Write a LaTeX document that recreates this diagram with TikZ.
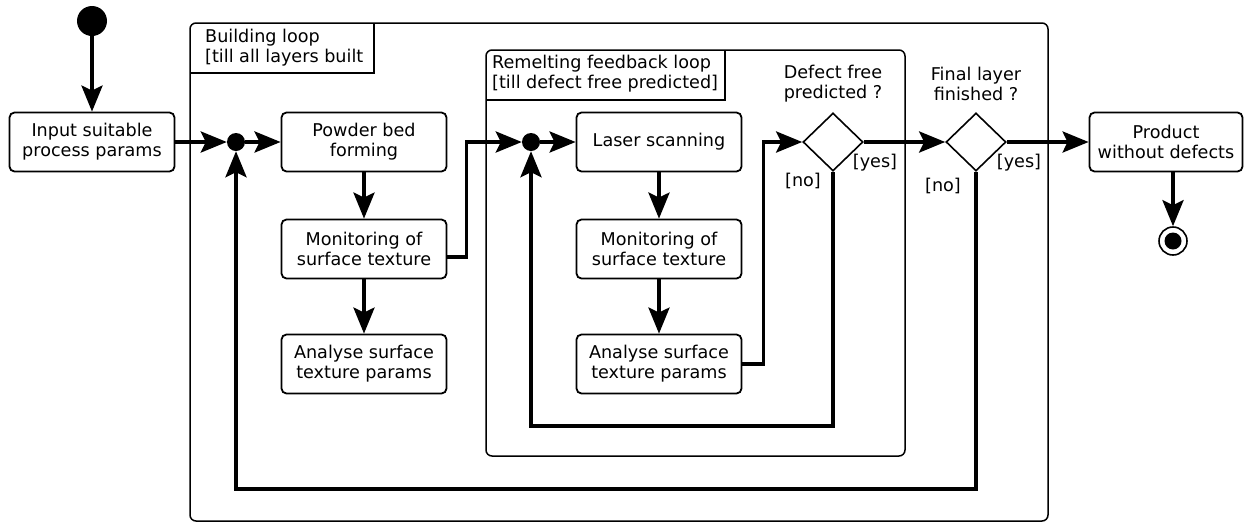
\documentclass[tikz,border=0pt]{standalone}
\usepackage{fontspec}
\setmainfont{DejaVu Sans}
\usetikzlibrary{arrows.meta, shapes.geometric}

\tikzset{
  action/.style={draw, line width=1.8pt, rounded corners=5pt, minimum width=165pt,
    minimum height=59pt, inner sep=0pt, align=center},
  choice/.style={diamond, draw, line width=1.6pt, minimum width=60pt,
    minimum height=58pt, inner sep=0pt},
  merge/.style={circle, fill, minimum size=18pt, inner sep=0pt},
  loopframe/.style={draw, line width=1.5pt, rounded corners=6pt},
  looptag/.style={anchor=north west, inner sep=0pt, align=left},
  flow/.style={line width=3.8pt, -{Stealth[length=26pt, width=21pt, inset=5pt]}},
  guard/.style={inner sep=0pt, align=center},
}

\begin{document}
\begin{tikzpicture}[x=1pt, y=-1pt, font=\fontsize{17.6}{20}\selectfont]
  \useasboundingbox (0,0) rectangle (1253,523);

  % Frames
  \draw[loopframe] (190,23) rectangle (1048,521);
  \draw[loopframe] (486,50) rectangle (905,456);
  \coordinate (buildtag) at (374,73);
  \coordinate (remelttag) at (725,100);
  \draw[line width=1.5pt] (190,73) -- (buildtag) -- (374,23);
  \draw[line width=1.5pt] (486,100) -- (remelttag) -- (725,50);
  \node[looptag] (buildtext) at (205,29) {Building loop\\{}[till all layers built};
  \node[looptag] (remelttext) at (492,55) {Remelting feedback loop\\{}[till defect free predicted]};

  % Nodes
  \node[circle, fill, minimum size=30pt, inner sep=0pt] (start) at (92,21) {};
  \node[action] (input) at (92,142) {Input suitable\\process params};
  \node[merge] (merge1) at (236,142) {};
  \node[action] (powder) at (364,142) {Powder bed\\forming};
  \node[action] (mon1) at (364,249) {Monitoring of\\surface texture};
  \node[action] (ana1) at (364,364) {Analyse surface\\texture params};
  \node[merge] (merge2) at (531,142) {};
  \node[action] (laser) at (659,142) {Laser scanning};
  \node[action] (mon2) at (659,249) {Monitoring of\\surface texture};
  \node[action] (ana2) at (659,364) {Analyse surface\\texture params};
  \node[choice] (dec1) at (833,142) {};
  \node[choice] (dec2) at (976,142) {};
  \node[action, minimum width=153pt] (product) at (1166,142) {Product\\without defects};
  \node[circle, draw, line width=1.6pt, minimum size=28pt, inner sep=0pt] (final) at (1173,241) {};
  \node[circle, fill, minimum size=17pt, inner sep=0pt] at (final) {};

  % Labels
  \node[guard] (q1) at (833,84) {Defect free\\predicted ?};
  \node[guard] (q2) at (976,84) {Final layer\\finished ?};
  \node[guard] (no1) at (803,181) {[no]};
  \node[guard] (yes1) at (875,163) {[yes]};
  \node[guard] (no2) at (943,186) {[no]};
  \node[guard] (yes2) at (1019,163) {[yes]};

  % Coordinates
  \coordinate (innerback) at (0,426);
  \coordinate (outerback) at (0,489);

  % Drawing
  \draw[flow] (start) -- (input);
  \draw[flow] (input) -- (merge1);
  \draw[flow] (merge1) -- (powder);
  \draw[flow] (powder) -- (mon1);
  \draw[flow] (mon1) -- (ana1);
  \draw[flow] ([yshift=-8pt]mon1.east) -- ++(19,0) |- (merge2);
  \draw[flow] (merge2) -- (laser);
  \draw[flow] (laser) -- (mon2);
  \draw[flow] (mon2) -- (ana2);
  \draw[flow] (ana2.east) -- ++(21,0) |- (dec1.west);
  \draw[flow] (dec1.south) |- (innerback -| merge2) -- (merge2);
  \draw[flow] (dec1.east) -- (dec2.west);
  \draw[flow] (dec2.south) |- (outerback -| merge1) -- (merge1);
  \draw[flow] (dec2.east) -- (product.west);
  \draw[flow] (product.south -| final) -- (final);
\end{tikzpicture}
\end{document}
